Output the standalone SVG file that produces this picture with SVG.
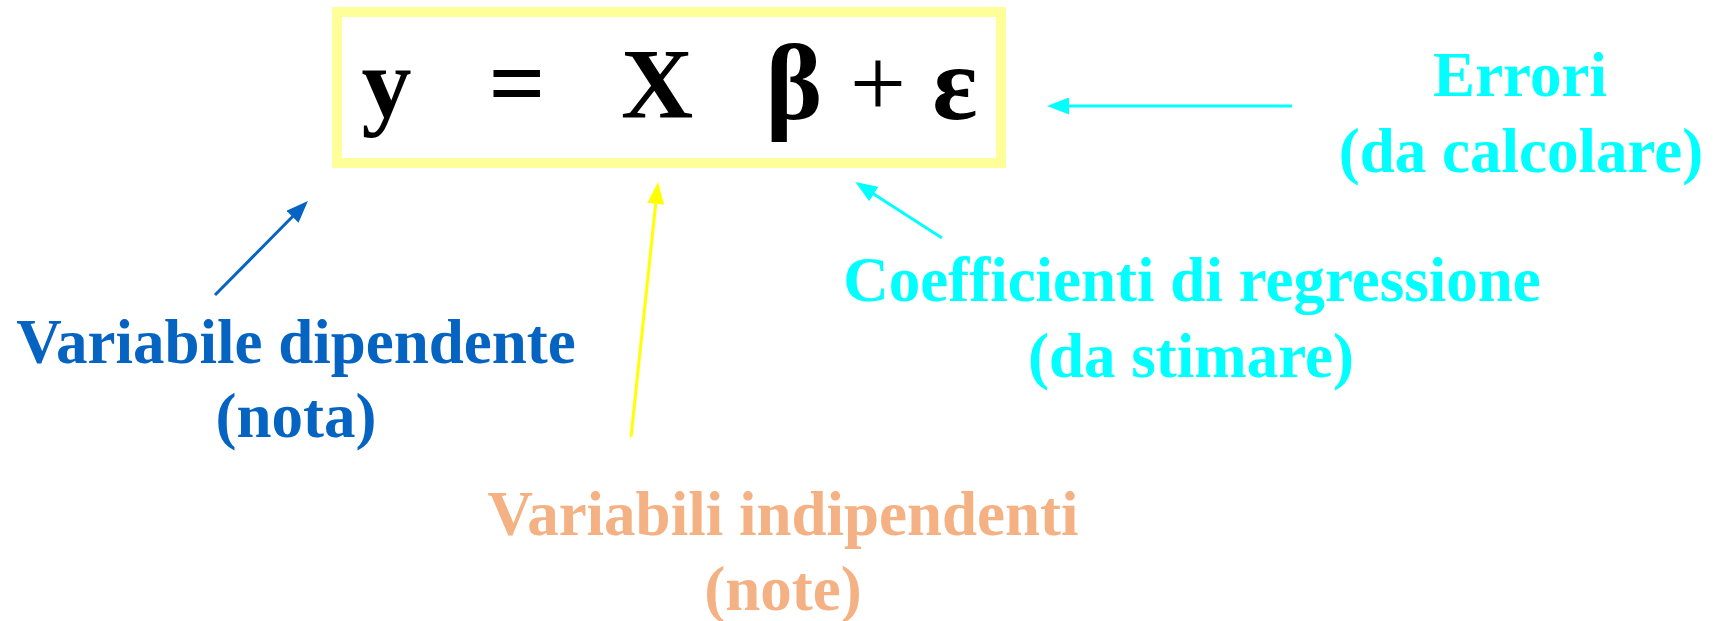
<svg xmlns="http://www.w3.org/2000/svg" width="1723" height="621" viewBox="0 0 1723 621">
<style>
text{font-family:"Liberation Serif","Times New Roman",serif;font-weight:bold;text-anchor:middle}
.eq{font-size:100px;fill:#000}
.lbl{font-size:63px}
.blue{fill:#0563C1}
.cyan{fill:#00FFFF}
.orange{fill:#F4B183}
.conn line{stroke-width:3;fill:none}
</style>
<defs>
<marker id="mBlue" markerUnits="userSpaceOnUse" markerWidth="22" markerHeight="17" refX="15" refY="8.5" orient="auto"><path d="M0,0 L22,8.5 L0,17 z" fill="#0563C1"/></marker>
<marker id="mCyan" markerUnits="userSpaceOnUse" markerWidth="22" markerHeight="17" refX="15" refY="8.5" orient="auto"><path d="M0,0 L22,8.5 L0,17 z" fill="#00FFFF"/></marker>
<marker id="mYellow" markerUnits="userSpaceOnUse" markerWidth="22" markerHeight="17" refX="15" refY="8.5" orient="auto"><path d="M0,0 L22,8.5 L0,17 z" fill="#FFFF00"/></marker>
</defs>
<rect width="1723" height="621" fill="#fff"/>
<g id="equation">
<rect x="337" y="12" width="664" height="151" fill="none" stroke="#FFFF99" stroke-width="10"/>
<text class="eq" x="386.5" y="117">y</text>
<text class="eq" x="517" y="117">=</text>
<text class="eq" x="657" y="117">X</text>
<text class="eq" x="794" y="119" style="font-size:108px">β</text>
<text class="eq" x="878" y="117" style="font-weight:normal">+</text>
<text class="eq" x="955" y="119" style="font-size:106px">ε</text>
</g>
<g id="dipendente">
<text class="lbl blue" x="296" y="363">Variabile dipendente</text>
<text class="lbl blue" x="296" y="437">(nota)</text>
</g>
<g id="indipendenti">
<text class="lbl orange" x="783" y="535">Variabili indipendenti</text>
<text class="lbl orange" x="783" y="610">(note)</text>
</g>
<g id="coefficienti">
<text class="lbl cyan" x="1192" y="301">Coefficienti di regressione</text>
<text class="lbl cyan" x="1191" y="377">(da stimare)</text>
</g>
<g id="errori">
<text class="lbl cyan" x="1520" y="96">Errori</text>
<text class="lbl cyan" x="1521" y="172">(da calcolare)</text>
</g>
<g id="connectors" class="conn">
<line x1="215" y1="295" x2="303" y2="206" stroke="#0563C1" marker-end="url(#mBlue)"/>
<line x1="631" y1="437" x2="657.3" y2="189" stroke="#FFFF00" marker-end="url(#mYellow)"/>
<line x1="942" y1="238" x2="861.2" y2="185.9" stroke="#00FFFF" marker-end="url(#mCyan)"/>
<line x1="1292" y1="106" x2="1054" y2="106" stroke="#00FFFF" marker-end="url(#mCyan)"/>
</g>
</svg>
